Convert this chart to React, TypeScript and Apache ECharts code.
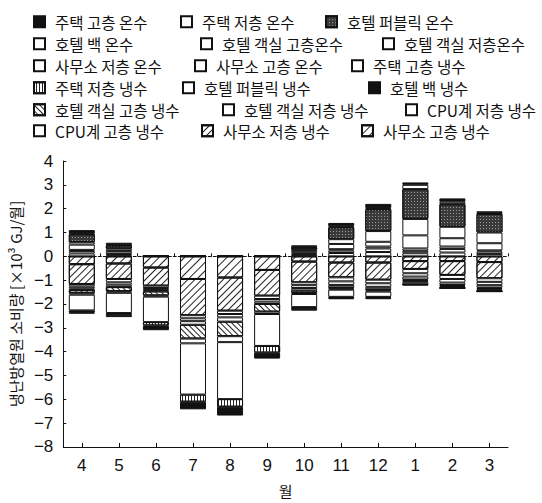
import React, { useEffect, useRef } from "react";
import * as echarts from "echarts";

const months = ["4", "5", "6", "7", "8", "9", "10", "11", "12", "1", "2", "3"];

// heating (온수), values ×10³ GJ/월
const resHighHeat = [0.14, 0.1, 0, 0, 0, 0, 0.06, 0.14, 0.17, 0.1, 0.14, 0.08];
const resLowHeat = [0.03, 0.02, 0, 0, 0, 0, 0.02, 0.04, 0.05, 0.18, 0.1, 0.03];
const hotelPublicHeat = [0.34, 0.13, 0, 0, 0, 0, 0.1, 0.5, 0.92, 1.25, 0.95, 0.78];
const hotelBackHeat = [0.1, 0.1, 0, 0, 0, 0, 0.05, 0.2, 0.45, 0.69, 0.48, 0.45];
const roomHighHeat = [0.22, 0.1, 0, 0, 0, 0, 0.08, 0.22, 0.2, 0.55, 0.35, 0.3];
const roomLowHeat = [0.05, 0.03, 0, 0, 0, 0, 0.04, 0.06, 0.08, 0.1, 0.1, 0.05];
const officeLowHeat = [0.1, 0.05, 0, 0, 0, 0, 0.05, 0.1, 0.15, 0.1, 0.15, 0.1];
const officeHighHeat = [0.12, 0.04, 0, 0, 0, 0, 0.06, 0.14, 0.18, 0.13, 0.16, 0.1];

// cooling (냉수)
const officeHighCool = [-0.33, -0.3, -0.47, -0.95, -0.89, -0.57, -0.22, -0.26, -0.26, -0.2, -0.2, -0.24];
const officeLowCool = [-0.83, -0.65, -0.76, -1.52, -1.39, -1.08, -0.87, -0.62, -0.72, -0.33, -0.58, -0.68];
const cpuHighCool = [-0.1, -0.14, -0.1, -0.13, -0.14, -0.14, -0.12, -0.17, -0.15, -0.18, -0.17, -0.15];
const cpuLowCool = [-0.08, -0.1, -0.08, -0.12, -0.14, -0.11, -0.12, -0.15, -0.15, -0.14, -0.15, -0.14];
const roomLowCool = [-0.07, -0.1, -0.06, -0.15, -0.18, -0.1, -0.1, -0.1, -0.1, -0.12, -0.1, -0.1];
const roomHighCool = [-0.12, -0.17, -0.17, -0.58, -0.61, -0.32, -0.1, -0.05, -0.05, -0.05, -0.04, -0.05];
const hotelPublicCool = [-0.08, -0.07, -0.05, -0.2, -0.25, -0.1, -0.05, -0.05, -0.05, -0.05, -0.04, -0.04];
const resHighCool = [-0.66, -0.85, -1.07, -2.15, -2.39, -1.34, -0.55, -0.3, -0.22, -0.1, -0.04, -0.06];
const resLowCool = [-0.07, -0.07, -0.14, -0.3, -0.32, -0.28, -0.07, -0.05, -0.04, -0.02, -0.01, -0.01];
const hotelBackCool = [-0.07, -0.1, -0.2, -0.32, -0.37, -0.25, -0.08, -0.05, -0.06, -0.03, -0.02, -0.02];

const FONT = "'Noto Sans CJK KR', 'Noto Sans', sans-serif";
const NUMFONT = "'Liberation Sans Narrow', 'Liberation Sans', sans-serif";

const black = { color: "#111", borderColor: "#111", borderWidth: 1 };
const white = { color: "#fff", borderColor: "#111", borderWidth: 1 };
const stripe = (gap: number, rot: number) => ({
  color: "#fff",
  borderColor: "#111",
  borderWidth: 1,
  decal: {
    symbol: "rect",
    symbolSize: 1,
    color: "#222",
    dashArrayX: [1, 0],
    dashArrayY: [1, gap],
    rotation: rot,
  },
});
const speckle = {
  color: "#3a3a3a",
  borderColor: "#111",
  borderWidth: 1,
  decal: {
    symbol: "rect",
    symbolSize: 1,
    color: "#9a9a9a",
    dashArrayX: [1, 2],
    dashArrayY: [1, 2],
    rotation: 0,
  },
};

type S = { name: string; data: number[]; style: any };

// stacking order: first = nearest zero
const seriesDefs: S[] = [
  { name: "사무소 고층 온수", data: officeHighHeat, style: white },
  { name: "사무소 저층 온수", data: officeLowHeat, style: white },
  { name: "호텔 객실 저층온수", data: roomLowHeat, style: white },
  { name: "호텔 객실 고층온수", data: roomHighHeat, style: white },
  { name: "호텔 백 온수", data: hotelBackHeat, style: white },
  { name: "호텔 퍼블릭 온수", data: hotelPublicHeat, style: speckle },
  { name: "주택 저층 온수", data: resLowHeat, style: white },
  { name: "주택 고층 온수", data: resHighHeat, style: black },
  { name: "사무소 고층 냉수", data: officeHighCool, style: stripe(5, -Math.PI / 4) },
  { name: "사무소 저층 냉수", data: officeLowCool, style: stripe(4, -Math.PI / 4) },
  { name: "CPU계 고층 냉수", data: cpuHighCool, style: white },
  { name: "CPU계 저층 냉수", data: cpuLowCool, style: white },
  { name: "호텔 객실 저층 냉수", data: roomLowCool, style: white },
  { name: "호텔 객실 고층 냉수", data: roomHighCool, style: stripe(3, Math.PI / 4) },
  { name: "호텔 퍼블릭 냉수", data: hotelPublicCool, style: white },
  { name: "주택 고층 냉수", data: resHighCool, style: white },
  { name: "주택 저층 냉수", data: resLowCool, style: stripe(2, Math.PI / 2) },
  { name: "호텔 백 냉수", data: hotelBackCool, style: black },
];

// legend rows as displayed
const legendRows: string[][] = [
  ["주택 고층 온수", "주택 저층 온수", "호텔 퍼블릭 온수"],
  ["호텔 백 온수", "호텔 객실 고층온수", "호텔 객실 저층온수"],
  ["사무소 저층 온수", "사무소 고층 온수", "주택 고층 냉수"],
  ["주택 저층 냉수", "호텔 퍼블릭 냉수", "호텔 백 냉수"],
  ["호텔 객실 고층 냉수", "호텔 객실 저층 냉수", "CPU계 저층 냉수"],
  ["CPU계 고층 냉수", "사무소 저층 냉수", "사무소 고층 냉수"],
];
const legendX: number[][] = [
  [33, 180, 325],
  [33, 200, 382],
  [33, 194, 351],
  [33, 182, 368],
  [33, 222, 405],
  [33, 201, 361],
];
const legendY = [14, 36, 58, 80, 102, 123];

export default function App() {
  const ref = useRef<HTMLDivElement>(null);
  useEffect(() => {
    if (!ref.current) return;
    const chart = echarts.init(ref.current, undefined, { renderer: "svg" });
    const legends: any[] = [];
    legendRows.forEach((row, r) =>
      row.forEach((name, c) =>
        legends.push({
          data: [name],
          left: legendX[r][c],
          top: legendY[r],
          padding: 0,
          itemWidth: 11,
          itemHeight: 11,
          icon: "rect",
          selectedMode: false,
          textStyle: { fontFamily: FONT, fontSize: 15.5, color: "#111", padding: [0, 0, 0, 5] },
        })
      )
    );
    chart.setOption({
      animation: false,
      backgroundColor: "#fff",
      legend: legends,
      grid: { left: 63, right: 34, top: 161, bottom: 54 },
      xAxis: [
        {
          type: "category",
          data: months,
          axisLine: { onZero: false, lineStyle: { color: "#111", width: 1 } },
          axisTick: { show: true, inside: true, alignWithLabel: true, length: 4, lineStyle: { color: "#111" } },
          axisLabel: { fontFamily: NUMFONT, fontSize: 17, color: "#111", margin: 10 },
          name: "월",
          nameLocation: "middle",
          nameGap: 36,
          nameTextStyle: { fontFamily: FONT, fontSize: 15, color: "#111" },
        },
        {
          type: "category",
          data: months,
          position: "bottom",
          axisLine: { onZero: true, lineStyle: { color: "#111", width: 1, type: [3, 2] } },
          axisTick: { show: true, inside: true, length: 3, lineStyle: { color: "#111" } },
          axisLabel: { show: false },
          z: 5,
        },
      ],
      yAxis: {
        type: "value",
        min: -8,
        max: 4,
        interval: 1,
        axisLine: { show: true, lineStyle: { color: "#111", width: 1 } },
        axisTick: { show: true, inside: true, length: 3, lineStyle: { color: "#111" } },
        splitLine: { show: false },
        axisLabel: {
          fontFamily: NUMFONT,
          fontSize: 17,
          color: "#111",
          margin: 10,
          formatter: (v: number) => (v < 0 ? "−" + Math.abs(v) : String(v)),
        },
        name: "냉난방열원 소비량 [×10³ GJ/월]",
        nameLocation: "middle",
        nameGap: 33,
        nameTextStyle: { fontFamily: FONT, fontSize: 15, color: "#111" },
      },
      series: seriesDefs.map((s) => ({
        name: s.name,
        type: "bar",
        stack: "total",
        xAxisIndex: 0,
        barWidth: 26,
        data: s.data,
        itemStyle: s.style,
        emphasis: { disabled: true },
      })),
    });
    return () => chart.dispose();
  }, []);
  return (
    <div
      ref={ref}
      style={{ position: "fixed", left: 0, top: 0, width: 542, height: 503, background: "#fff" }}
    />
  );
}
